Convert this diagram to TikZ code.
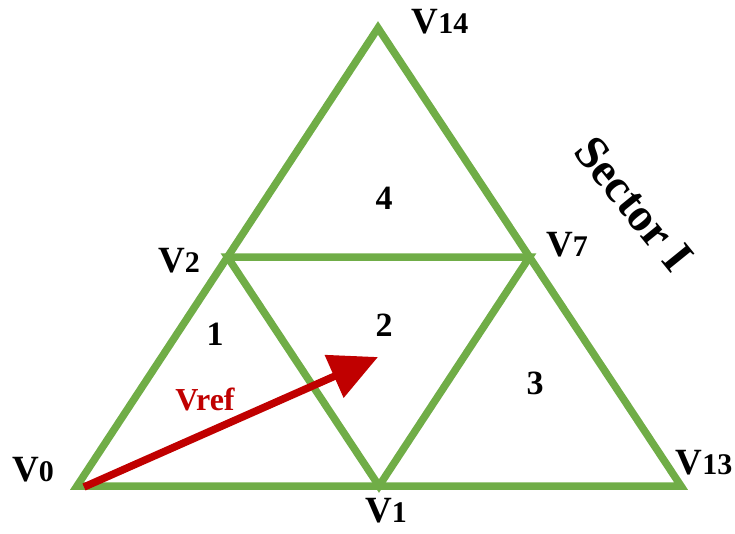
\documentclass[tikz,border=0pt]{standalone}
\usepackage{fontspec}
\setmainfont{Liberation Serif}
\usetikzlibrary{arrows.meta}
\definecolor{tgreen}{HTML}{70AD47}
\definecolor{tred}{HTML}{C00000}
\tikzset{
  edge/.style={draw=tgreen, line width=7.5pt, line join=miter},
  vlabel/.style={inner sep=0pt, font=\bfseries\fontsize{37}{40}\selectfont},
  region/.style={inner sep=0pt, font=\bfseries\fontsize{34}{36}\selectfont},
  vref/.style={draw=tred, line width=7.5pt, -{Triangle[length=48pt,width=45pt]}},
}
\newcommand{\vl}[1]{V{\fontsize{30}{32}\selectfont #1}}
\begin{document}
\begin{tikzpicture}[x=1pt,y=-1pt]
\useasboundingbox (0,0) rectangle (735,533);
\coordinate (A) at (77,486);
\coordinate (B) at (681,486);
\coordinate (C) at (378,28);
\coordinate (M2) at (227.5,257);
\coordinate (M7) at (529.5,257);
\coordinate (M1) at (379,486);
\draw[edge] (A) -- (B) -- (C) -- cycle;
\draw[edge] (M2) -- (M7) -- (M1) -- cycle;
\coordinate (tail) at (84,487);
\coordinate (tip) at (378,357);
\draw[vref] (tail) -- (tip);
\node[vlabel] (l0) at (33,470) {\vl{0}};
\node[vlabel] (l1) at (386,511) {\vl{1}};
\node[vlabel] (l13) at (704,463) {\vl{13}};
\node[vlabel] (l14) at (440,22) {\vl{14}};
\node[vlabel] (l2) at (179,261) {\vl{2}};
\node[vlabel] (l7) at (567,245) {\vl{7}};
\node[region] (r4) at (384,198) {4};
\node[region] (r1) at (215,334) {1};
\node[region] (r2) at (384,325) {2};
\node[region] (r3) at (535,383) {3};
\node[inner sep=0pt, text=tred, font=\bfseries\fontsize{32}{34}\selectfont] (vr) at (205,399) {Vref};
\node[inner sep=0pt, rotate=-51, font=\bfseries\fontsize{47}{50}\selectfont] (sec) at (634,204) {Sector I};
\end{tikzpicture}
\end{document}
